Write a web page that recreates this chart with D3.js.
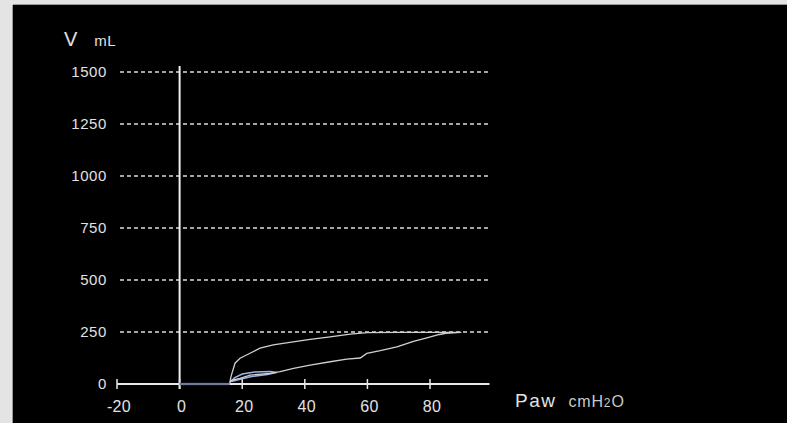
<!DOCTYPE html>
<html>
<head>
<meta charset="utf-8">
<script src="https://cdn.jsdelivr.net/npm/d3@7"></script>
<style>
  html, body { margin: 0; padding: 0; background: #e6e6e6; }
  svg { display: block; }
</style>
</head>
<body>
<div id="chart"></div>
<script>
// axis ticks
const xTicks = [-20, 0, 20, 40, 60, 80];
const yTicks = [0, 250, 500, 750, 1000, 1250, 1500];

// pressure-volume loop (Paw cmH2O, V mL)
const loopPaw = [16, 16.5, 17.7, 19.3, 22.5, 25.7, 29.9, 36.3, 41.7, 48.1, 54.5, 60, 70, 80, 90,
                 85, 83, 79, 74.7, 69.4, 64.1, 59.8, 57.7, 53.4, 48.1, 41.7, 36.4, 32.1, 28.9, 22.5, 19.3, 16.7, 16];
const loopVol = [5, 40, 100, 124, 148, 172, 188, 203, 215, 227, 240, 247, 248, 248, 248,
                 244, 238, 222, 205, 178, 160, 147, 125, 120, 107, 91, 75, 59, 51, 43, 27, 19, 5];

// small inner loop near the start of the breath
const innerPaw = [16.5, 17.5, 20, 24, 29, 31, 28, 23, 19, 16.5];
const innerVol = [12, 30, 48, 58, 60, 55, 46, 36, 22, 12];

// baseline trace before inspiration
const basePaw = [0, 16];
const baseVol = [0, 0];

const width = 787, height = 423;
const svg = d3.select("#chart").append("svg")
    .attr("width", width)
    .attr("height", height);

// black screen with grey frame on top/left
svg.append("rect").attr("x", 0).attr("y", 0).attr("width", width).attr("height", height).attr("fill", "#e4e4e4");
svg.append("rect").attr("x", 13).attr("y", 5).attr("width", width - 13).attr("height", height - 5).attr("fill", "#000");
svg.append("line").attr("x1", 12.5).attr("x2", 12.5).attr("y1", 5).attr("y2", height)
    .attr("stroke", "#9a9a9a").attr("stroke-width", 1);
svg.append("line").attr("x1", 13).attr("x2", width).attr("y1", 4.5).attr("y2", 4.5)
    .attr("stroke", "#9a9a9a").attr("stroke-width", 1);

const x = d3.scaleLinear().domain([-20, 99]).range([117, 489.5]);
const y = d3.scaleLinear().domain([0, 1500]).range([384, 72]);

const txt = "#e2e2e2";
const font = "'Liberation Sans', Arial, sans-serif";

// dashed grid lines
svg.append("g").selectAll("line")
    .data(yTicks.filter(d => d > 0))
    .enter().append("line")
    .attr("x1", 120).attr("x2", x(99))
    .attr("y1", d => y(d)).attr("y2", d => y(d))
    .attr("stroke", "#dcdcdc")
    .attr("stroke-width", 1.5)
    .attr("stroke-dasharray", "4,3");

// y labels
svg.append("g").selectAll("text")
    .data(yTicks)
    .enter().append("text")
    .attr("x", 107)
    .attr("y", d => y(d))
    .attr("dy", "0.36em")
    .attr("text-anchor", "end")
    .attr("fill", txt)
    .attr("font-family", font)
    .attr("font-size", 15)
    .attr("letter-spacing", 0.6)
    .text(d => d);

// vertical zero line
svg.append("line")
    .attr("x1", x(0)).attr("x2", x(0))
    .attr("y1", 66).attr("y2", 389)
    .attr("stroke", "#f0f0f0").attr("stroke-width", 2);

// x axis
const xAxis = svg.append("g").attr("transform", `translate(0,${y(0)})`);
xAxis.append("line")
    .attr("x1", x(-20)).attr("x2", x(99))
    .attr("stroke", "#e8e8e8").attr("stroke-width", 2);
xAxis.selectAll(".tick")
    .data(xTicks)
    .enter().append("line")
    .attr("x1", d => x(d)).attr("x2", d => x(d))
    .attr("y1", -5).attr("y2", 5)
    .attr("stroke", "#e8e8e8").attr("stroke-width", 1.5);
xAxis.selectAll("text")
    .data(xTicks)
    .enter().append("text")
    .attr("x", d => x(d) + 2)
    .attr("y", 22)
    .attr("dy", "0.36em")
    .attr("text-anchor", "middle")
    .attr("fill", txt)
    .attr("font-family", font)
    .attr("font-size", 16)
    .attr("letter-spacing", 0.3)
    .text(d => d);

// axis titles
const vt = svg.append("text").attr("x", 64).attr("y", 46)
    .attr("fill", txt).attr("font-family", font);
vt.append("tspan").attr("font-size", 20).text("V");
vt.append("tspan").attr("dx", 17).attr("font-size", 15).attr("letter-spacing", 0.5).text("mL");

const pt = svg.append("text").attr("x", 515).attr("y", 407)
    .attr("fill", txt).attr("font-family", font);
pt.append("tspan").attr("font-size", 19).attr("letter-spacing", 1.5).text("Paw");
pt.append("tspan").attr("dx", 12).attr("font-size", 16).attr("letter-spacing", 0.8).attr("fill", "#c8c8c8").text("cmH");
pt.append("tspan").attr("font-size", 12).attr("fill", "#c8c8c8").text("2");
pt.append("tspan").attr("dx", 1).attr("font-size", 16).attr("fill", "#c8c8c8").text("O");

// traces
const line = d3.line().x(d => x(d[0])).y(d => y(d[1]));

svg.append("path")
    .datum(d3.zip(basePaw, baseVol))
    .attr("d", line)
    .attr("fill", "none")
    .attr("stroke", "#22335f")
    .attr("stroke-width", 3)
    .attr("opacity", 0.6);

svg.append("path")
    .datum(d3.zip(innerPaw, innerVol))
    .attr("d", line)
    .attr("fill", "none")
    .attr("stroke", "#9fb2e6")
    .attr("stroke-width", 1.5);

svg.append("path")
    .datum(d3.zip(loopPaw, loopVol))
    .attr("d", line)
    .attr("fill", "none")
    .attr("stroke", "#cfcfcf")
    .attr("stroke-width", 1.3);
</script>
</body>
</html>
